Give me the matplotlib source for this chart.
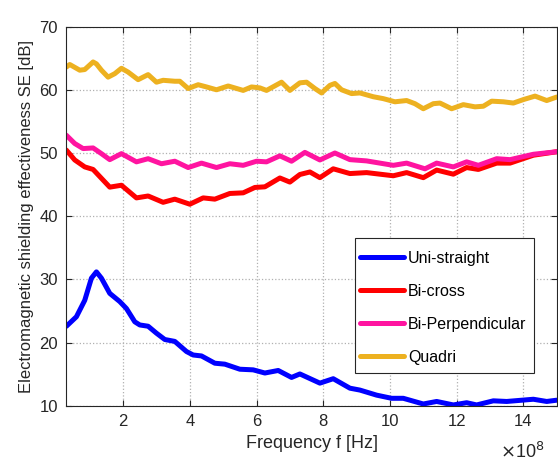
import matplotlib
matplotlib.use("Agg")
import matplotlib.pyplot as plt
from matplotlib.patches import Rectangle

plt.rcParams['font.family'] = ['Liberation Sans', 'DejaVu Sans']

# Frequency in units of 1e8 Hz
uni_f = [0.3, 0.6, 0.85, 1.05, 1.2, 1.35, 1.6, 1.9, 2.1, 2.35, 2.5, 2.75, 3.0, 3.25,
         3.55, 3.9, 4.1, 4.35, 4.75, 5.05, 5.5, 5.9, 6.25, 6.65, 7.05, 7.3, 7.9, 8.3,
         8.8, 9.1, 9.6, 10.05, 10.4, 11.0, 11.4, 11.9, 12.3, 12.6, 13.1, 13.5, 14.3,
         14.7, 15.0]
uni_se = [22.6, 24.1, 26.7, 30.2, 31.2, 30.2, 27.8, 26.5, 25.4, 23.3, 22.8, 22.6, 21.5,
          20.5, 20.2, 18.6, 18.05, 17.9, 16.75, 16.6, 15.8, 15.7, 15.2, 15.6, 14.5,
          15.05, 13.6, 14.3, 12.8, 12.5, 11.7, 11.2, 11.2, 10.3, 10.7, 10.15, 10.5,
          10.15, 10.8, 10.7, 11.05, 10.7, 10.9]

cross_f = [0.3, 0.55, 0.85, 1.1, 1.35, 1.6, 1.95, 2.4, 2.75, 3.2, 3.55, 4.0, 4.4, 4.75,
           5.2, 5.6, 5.95, 6.25, 6.7, 7.0, 7.3, 7.6, 7.9, 8.3, 8.8, 9.3, 10.1, 10.5,
           11.0, 11.4, 11.9, 12.3, 12.65, 13.2, 13.6, 14.3, 15.0]
cross_se = [50.45, 48.9, 47.8, 47.4, 46.0, 44.6, 44.9, 42.9, 43.2, 42.2, 42.7, 41.9,
            42.9, 42.7, 43.6, 43.7, 44.55, 44.65, 46.05, 45.4, 46.6, 47.0, 46.1, 47.5,
            46.75, 46.9, 46.4, 46.9, 46.1, 47.3, 46.65, 47.7, 47.4, 48.4, 48.4, 49.65,
            50.2]

perp_f = [0.3, 0.55, 0.8, 1.1, 1.35, 1.6, 1.95, 2.4, 2.75, 3.15, 3.55, 3.95, 4.35, 4.8,
          5.2, 5.6, 6.0, 6.3, 6.7, 7.05, 7.45, 7.9, 8.35, 8.8, 9.3, 10.1, 10.5, 11.05,
          11.4, 11.9, 12.3, 12.65, 13.2, 13.6, 14.3, 15.0]
perp_se = [52.8, 51.5, 50.7, 50.8, 49.9, 48.95, 49.9, 48.6, 49.1, 48.3, 48.7, 47.7,
           48.4, 47.7, 48.3, 48.05, 48.7, 48.6, 49.55, 48.7, 50.1, 48.9, 50.0, 48.95,
           48.75, 48.05, 48.4, 47.5, 48.4, 47.8, 48.6, 48.05, 49.1, 48.95, 49.8, 50.2]

quad_f = [0.3, 0.4, 0.7, 0.85, 1.1, 1.2, 1.35, 1.55, 1.75, 1.95, 2.15, 2.45, 2.75, 3.0,
          3.2, 3.55, 3.7, 3.95, 4.25, 4.5, 4.8, 5.15, 5.6, 5.85, 6.1, 6.3, 6.75, 7.0,
          7.3, 7.5, 7.75, 7.95, 8.2, 8.35, 8.55, 8.85, 9.1, 9.5, 9.8, 10.15, 10.5,
          10.75, 11.0, 11.3, 11.5, 11.85, 12.2, 12.55, 12.8, 13.05, 13.4, 13.7, 14.0,
          14.35, 14.7, 15.0]
quad_se = [63.6, 64.0, 63.1, 63.2, 64.4, 64.1, 63.1, 62.0, 62.55, 63.4, 62.8, 61.6,
           62.4, 61.2, 61.5, 61.35, 61.35, 60.2, 60.8, 60.45, 60.0, 60.6, 59.9, 60.45,
           60.3, 59.9, 61.2, 59.9, 61.1, 61.2, 60.2, 59.5, 60.7, 61.0, 60.0, 59.4, 59.5,
           58.9, 58.6, 58.1, 58.3, 57.8, 57.0, 57.8, 57.9, 57.0, 57.65, 57.3, 57.4,
           58.2, 58.1, 57.9, 58.45, 59.0, 58.3, 58.85]

labels = ['Uni-straight', 'Bi-cross', 'Bi-Perpendicular', 'Quadri']
colors = ['#0000FF', '#FF0000', '#FF14A0', '#EDB120']
x_ticks = [2, 4, 6, 8, 10, 12, 14]
y_ticks = [10, 20, 30, 40, 50, 60, 70]

fig = plt.figure(figsize=(5.58, 4.66), dpi=100)
ax = fig.add_axes([0.119, 0.129, 0.8787, 0.814])

for f, se, lab, c in zip([uni_f, cross_f, perp_f, quad_f],
                         [uni_se, cross_se, perp_se, quad_se], labels, colors):
    ax.plot(f, se, color=c, lw=3.6, label=lab, solid_joinstyle='round',
            solid_capstyle='round')

ax.set_xlim(0.3, 15.0)
ax.set_ylim(10, 70)
ax.set_xticks(x_ticks)
ax.set_yticks(y_ticks)
ax.tick_params(direction='in', top=True, right=True, labelsize=12, length=4,
               width=0.8, pad=6, colors='#262626')
for lab in ax.get_xticklabels() + ax.get_yticklabels():
    lab.set_color('#262626')
for s in ax.spines.values():
    s.set_color('#262626')
    s.set_linewidth(0.8)
ax.grid(True, linestyle=':', color='#b0b0b0', linewidth=0.9)
ax.set_axisbelow(True)

ax.set_xlabel('Frequency f [Hz]', fontsize=13, color='#262626', labelpad=4)
ax.set_ylabel('Electromagnetic shielding effectiveness SE [dB]', fontsize=12,
              color='#262626', labelpad=4)
fig.text(0.975, 0.008, r'$\times$10$^{8}$', fontsize=13, color='#262626',
         ha='right', va='bottom')

# legend box frame
frame = Rectangle((0.5885, 0.087), 0.365, 0.3557, transform=ax.transAxes,
                  facecolor='white', edgecolor='#262626', linewidth=0.8, zorder=4.5)
ax.add_patch(frame)
leg = ax.legend(loc='lower left', bbox_to_anchor=(0.5987, 0.108), borderaxespad=0,
                fontsize=11.5, frameon=False, handlelength=2.75, handletextpad=0.25,
                labelspacing=1.13, borderpad=0)
leg.set_zorder(5)

fig.savefig('out.png', dpi=100)
